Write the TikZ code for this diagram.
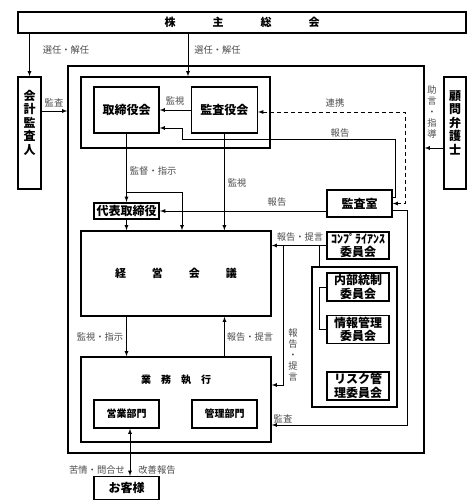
\documentclass[tikz,border=0pt]{standalone}
\usepackage{fontspec}
\setmainfont{Noto Sans CJK JP}
\usepackage{tikz}
\tikzstyle{frame}=[rectangle,draw=black,line width=1.4pt,inner sep=0pt]
\tikzstyle{box}=[rectangle,draw=black,line width=1.4pt,inner sep=0pt,align=center,
font=\bfseries\fontsize{12}{13.5}\selectfont]
\tikzstyle{dbox}=[box,line width=2.2pt]
\tikzstyle{vtxt}=[anchor=center,inner sep=0pt,align=center,font=\bfseries\fontsize{12}{13.5}\selectfont]
\tikzstyle{lbl}=[inner sep=0pt,text=black!70,align=center,font=\fontsize{9.3}{10.8}\selectfont]
\usetikzlibrary{arrows,positioning,calc}

\begin{document}
\begin{tikzpicture}[x=1pt,y=-1pt,>=latex,line width=0.8pt]
            \useasboundingbox (0,0) rectangle (467,501);

            % SHAREHOLDERS PART

            \node[box,minimum width=448pt,minimum height=21pt,font=\bfseries\fontsize{11}{12}\selectfont] (sh) at (242,22.5) {株\hspace{37pt}主\hspace{37pt}総\hspace{37pt}会};
            \node[box,minimum width=23pt,minimum height=112pt,label={[vtxt,yshift=-46.5pt]north:会\\計\\監\\査\\人}] (kaikei) at (29.5,133) {};
            \node[box,minimum width=22pt,minimum height=112pt,label={[vtxt,yshift=-46.5pt]north:顧\\問\\弁\\護\\士}] (komon) at (455,133) {};
            \node[frame,minimum width=356pt,minimum height=387pt] (corp) at (246,259.5) {};

            % BOARD PART

            \node[frame,minimum width=189pt,minimum height=71pt] (board) at (175.5,112.5) {};
            \node[box,minimum width=65pt,minimum height=46pt] (torishimari) at (126.5,110) {取締役会};
            \node[box,right=31pt of torishimari,minimum width=66pt,minimum height=46pt] (kansayaku) {監査役会};
            \node[dbox,minimum width=65pt,minimum height=16pt] (daihyo) at (126.5,211) {代表取締役};
            \node[box,minimum width=65pt,minimum height=27pt] (kansashitsu) at (359.5,203.5) {監査室};

            % MANAGEMENT PART

            \node[frame,minimum width=190pt,minimum height=85pt,font=\bfseries\fontsize{11}{12}\selectfont] (keiei) at (176,273.5) {経\hspace{26pt}営\hspace{26pt}会\hspace{26pt}議};
            \node[frame,minimum width=190pt,minimum height=85pt,label={[anchor=center,yshift=-23.5pt,font=\bfseries\fontsize{10}{12}\selectfont]north:業\hspace{10pt}務\hspace{10pt}執\hspace{10pt}行}] (gyomu) at (176,399.5) {};
            \node[box,minimum width=65pt,minimum height=28pt,font=\bfseries\fontsize{10}{12}\selectfont] (eigyo) at (126.5,414) {営業部門};
            \node[box,minimum width=65pt,minimum height=28pt,font=\bfseries\fontsize{10}{12}\selectfont] (kanri) at (224.5,414) {管理部門};
            \node[box,minimum width=65pt,minimum height=23pt] (kyaku) at (126.5,488) {お客様};

            % COMMITTEES PART

            \node[box,minimum width=62pt,minimum height=27pt,font=\bfseries\fontsize{12}{13}\selectfont] (comp) at (358,245.5) {ｺﾝﾌﾟﾗｲｱﾝｽ\\委員会};
            \node[frame,minimum width=85pt,minimum height=140pt] (iinkai) at (354.5,337) {};
            \node[box,minimum width=62pt,minimum height=28pt] (naibu) at (358,287) {内部統制\\委員会};
            \node[box,minimum width=62pt,minimum height=28pt] (joho) at (358,329.5) {情報管理\\委員会};
            \node[box,minimum width=62pt,minimum height=28pt] (risk) at (358,386) {リスク管\\理委員会};

            % Connections of Shareholders

            \coordinate (xs) at (188,0);
            \coordinate (ya) at (0,111);
            \coordinate (yk) at (0,148);
            \draw[->] (kaikei.north |- sh.south) -- (kaikei.north);
            \draw[->] (sh.south -| xs) -- (board.north -| xs);
            \draw[->] (kaikei.east |- ya) -- (corp.west |- ya);
            \draw[->] (komon.west |- yk) -- (corp.east |- yk);
            \node[lbl] (l1) at (66,50) {選任・解任};
            \node[lbl] (l2) at (217.5,50) {選任・解任};
            \node[lbl] (l3) at (54,103) {監査};
            \node[lbl] (l4) at (432,112) {助\\言\\・\\指\\導};

            % Connections of Board

            \path[->] (kansayaku) edge node[lbl,above=4pt] {監視} (torishimari);
            \path[->] (torishimari.south) edge node[lbl,right=3pt,pos=0.54] {監督・指示} (daihyo.north);
            \draw[->] (torishimari.south) ++(0,59) -| ([xshift=6pt]keiei.north);
            \path[->] (daihyo.south) edge (daihyo.south |- keiei.north);
            \path[->] (kansayaku.south) edge node[lbl,right=3pt,pos=0.51] {監視} (kansayaku.south |- keiei.north);

            % Connections of Audit

            \draw[->] ([yshift=6.5pt]kansashitsu.east) -- ++(3,0) |- (182,139) |- ([yshift=-18pt]torishimari.east);
            \draw[<->,dash pattern=on 4pt off 3pt] ([yshift=-2pt]kansayaku.east) -- ++(147,0) |- (kansashitsu.east);
            \draw[->] (kansashitsu.west |- daihyo.east) -- (daihyo.east);
            \draw[->] ([yshift=-6.5pt]kansashitsu.east) -- ++(15,0) |- ([yshift=-25.5pt]gyomu.east);
            \node[lbl] (l5) at (340,133) {報告};
            \node[lbl] (l6) at (335,103) {連携};
            \node[lbl] (l7) at (277,202) {報告};
            \node[lbl] (l8) at (283,419) {監査};

            % Connections of Management

            \path[->] (keiei.south -| eigyo.north) edge (gyomu.north -| eigyo.north);
            \path[->] (gyomu.north -| kanri.north) edge (keiei.south -| kanri.north);
            \path[<->] ([xshift=3.5pt]eigyo.south) edge ([xshift=3.5pt]kyaku.north);
            \node[lbl] (l9) at (100,337) {監視・指示};
            \node[lbl] (l10) at (250,337) {報告・提言};
            \node[lbl] (l11) at (97,470) {苦情・問合せ};
            \node[lbl] (l12) at (157,470) {改善報告};

            % Connections of Committees

            \draw[->] (comp.west) -- (comp.west -| keiei.east);
            \draw[->] ([xshift=-43pt]comp.west) |- ([yshift=14.5pt]gyomu.east);
            \draw ([xshift=-35.5pt]iinkai.north) -- ++(0,-21.5);
            \draw (naibu.west) -- ++(-7,0) |- (joho.west);
            \node[lbl] (l13) at (300,237) {報告・提言};
            \node[lbl] (l14) at (293,355) {報\\告\\・\\提\\言};

        \end{tikzpicture}
\end{document}
